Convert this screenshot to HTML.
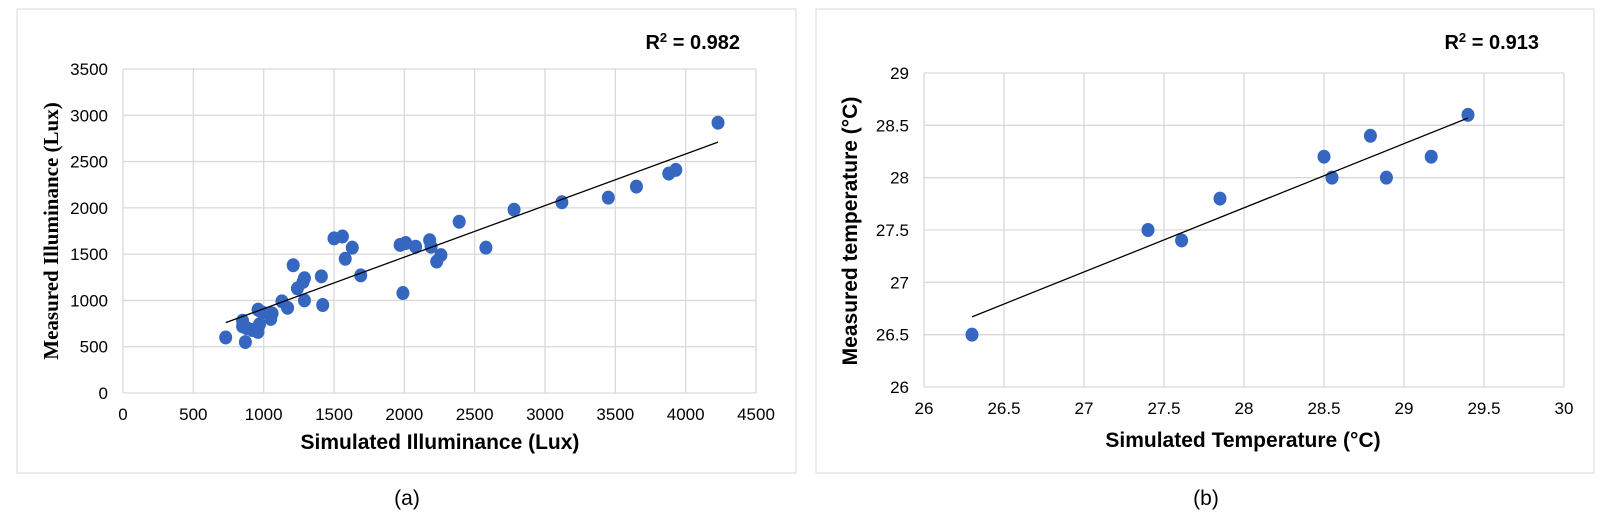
<!DOCTYPE html>
<html><head><meta charset="utf-8"><style>
html,body{margin:0;padding:0;background:#fff;}
svg{display:block;font-family:"Liberation Sans",Arial,sans-serif;}
</style></head><body>
<svg id="s" width="1600" height="523" viewBox="0 0 1600 523" xmlns="http://www.w3.org/2000/svg">
<rect x="17" y="9" width="779" height="464" fill="#fff" stroke="#d9d9d9"/>
<rect x="816" y="9" width="778" height="464" fill="#fff" stroke="#d9d9d9"/>
<g id="g"></g>
<text x="740" y="49" font-size="20" font-weight="bold" text-anchor="end">R<tspan font-size="13" dy="-7">2</tspan><tspan dy="7"> = 0.982</tspan></text>
<text x="1539" y="49" font-size="20" font-weight="bold" text-anchor="end">R<tspan font-size="13" dy="-7">2</tspan><tspan dy="7"> = 0.913</tspan></text>
<text x="440" y="449" font-size="21" font-weight="bold" text-anchor="middle">Simulated Illuminance (Lux)</text>
<text x="1243" y="447" font-size="21" font-weight="bold" text-anchor="middle">Simulated Temperature (°C)</text>
<text transform="translate(58,231) rotate(-90)" font-size="21" font-weight="bold" text-anchor="middle" font-family="Liberation Serif,serif">Measured Illuminance (Lux)</text>
<text transform="translate(857,231) rotate(-90)" font-size="21" font-weight="bold" text-anchor="middle">Measured temperature (°C)</text>
<text x="407" y="505" font-size="21" text-anchor="middle">(a)</text>
<text x="1206" y="505" font-size="21" text-anchor="middle">(b)</text>
</svg>
<script>
var g=document.getElementById('g'),h='';
function L(x1,y1,x2,y2,c,w){h+='<line x1="'+x1+'" y1="'+y1+'" x2="'+x2+'" y2="'+y2+'" stroke="'+c+'" stroke-width="'+w+'"/>';}
function T(x,y,t,a){h+='<text x="'+x+'" y="'+y+'" font-size="17" text-anchor="'+a+'">'+t+'</text>';}
var ax=123,bx=756,ay=393,by=69;
function lx(v){return ax+v/4500*(bx-ax);} function ly(v){return ay-v/3500*(ay-by);}
for(var i=0;i<=9;i++){var x=lx(i*500);L(x,by,x,ay,'#d9d9d9',1.3);T(x,420,i*500,'middle');}
for(var j=0;j<=7;j++){var y=ly(j*500);L(ax,y,bx,y,'#d9d9d9',1.3);T(108,y+6,j*500,'end');}
var P=[[730,600],[870,550],[850,780],[850,720],[880,700],[920,680],[960,900],[960,660],[970,740],[990,870],[1050,800],[1060,860],[1130,990],[1170,920],[1210,1380],[1240,1130],[1280,1200],[1290,1240],[1290,1000],[1410,1260],[1420,950],[1500,1670],[1560,1690],[1580,1450],[1630,1570],[1690,1270],[1970,1600],[1990,1080],[2010,1620],[2080,1580],[2180,1650],[2190,1580],[2230,1420],[2260,1490],[2390,1850],[2580,1570],[2780,1980],[3120,2060],[3450,2110],[3650,2230],[3880,2370],[3930,2410],[4230,2920]];
P.forEach(function(p){h+='<ellipse cx="'+lx(p[0])+'" cy="'+ly(p[1])+'" rx="6.5" ry="7" fill="#3567c0"/>';});
L(lx(730),ly(760),lx(4230),ly(2710),'#000',1.3);
var cx=924,dx=1564,cy=387,dy=73;
function rx(v){return cx+(v-26)/4*(dx-cx);} function ry(v){return cy-(v-26)/3*(cy-dy);}
for(var i=0;i<=8;i++){var v=26+i*0.5,x=rx(v);L(x,dy,x,cy,'#d9d9d9',1.3);T(x,414,v,'middle');}
for(var j=0;j<=6;j++){var v=26+j*0.5,y=ry(v);L(cx,y,dx,y,'#d9d9d9',1.3);T(909,y+6,v,'end');}
var Q=[[26.3,26.5],[27.4,27.5],[27.61,27.4],[27.85,27.8],[28.5,28.2],[28.55,28.0],[28.79,28.4],[28.89,28.0],[29.17,28.2],[29.4,28.6]];
Q.forEach(function(p){h+='<ellipse cx="'+rx(p[0])+'" cy="'+ry(p[1])+'" rx="6.5" ry="7" fill="#3567c0"/>';});
L(rx(26.3),ry(26.67),rx(29.4),ry(28.57),'#000',1.3);
g.innerHTML=h;
</script>
</body></html>
